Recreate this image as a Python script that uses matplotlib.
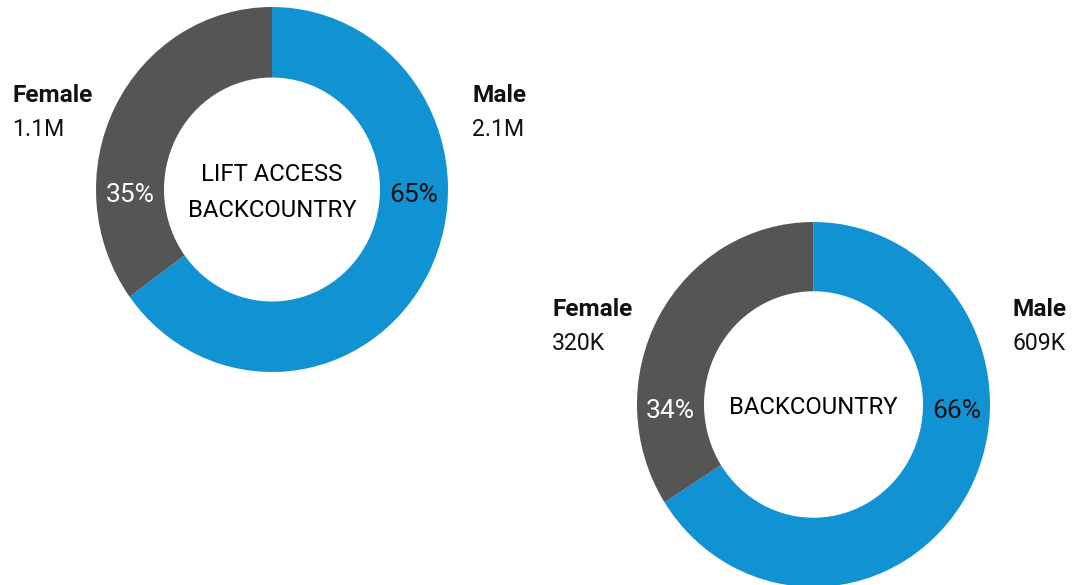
import matplotlib.pyplot as plt

plt.rcParams['font.family'] = ['Roboto', 'DejaVu Sans']

# shares per sex, male first (drawn clockwise from 12 o'clock)
labels = ["Male", "Female"]
lift_share = [65, 35]
lift_counts = ["2.1M", "1.1M"]
bc_share = [66, 34]
bc_counts = ["609K", "320K"]

BLUE = "#1193d3"
GREY = "#555555"
W, H = 1077, 585

fig = plt.figure(figsize=(W / 100, H / 100), dpi=100)

# overlay axes in pixel units (y measured from the top) for all the text
txt = fig.add_axes([0, 0, 1, 1], zorder=5)
txt.set_xlim(0, W)
txt.set_ylim(H, 0)
txt.axis('off')
txt.patch.set_alpha(0)


def donut(cx, cy, rx, ry, inner, shares, counts, title, female_x, male_x,
          label_y):
    # each ring gets its own axes so its size is set in pixels
    ax = fig.add_axes([(cx - rx) / W, (H - cy - ry) / H, 2 * rx / W, 2 * ry / H])
    ax.pie(shares, colors=[BLUE, GREY], startangle=90, counterclock=False,
           radius=1, wedgeprops=dict(width=1 - inner / rx, linewidth=0))
    ax.set_aspect('auto')
    ax.set_xlim(-1, 1)
    ax.set_ylim(-1, 1)
    ax.axis('off')

    mid = (rx + inner) / 2
    txt.text(cx + mid, cy + 6, f"{shares[0]}%", ha='center', va='center',
             fontsize=19, color="#111111")
    txt.text(cx - mid, cy + 6, f"{shares[1]}%", ha='center', va='center',
             fontsize=19, color="white")
    txt.text(cx, cy + 3, title, ha='center', va='center', fontsize=17.2,
             color="black", linespacing=1.68)
    for x, name, cnt in [(male_x, labels[0], counts[0]),
                         (female_x, labels[1], counts[1])]:
        txt.text(x, label_y, name, ha='left', va='center', fontsize=17.6,
                 fontweight='bold', color="#111111")
        txt.text(x, label_y + 33, cnt, ha='left', va='center', fontsize=16.6,
                 color="#111111")


donut(272, 189.5, 176, 182.5, 108, lift_share, lift_counts,
      "LIFT ACCESS\nBACKCOUNTRY", 12, 472, 96)
donut(813.5, 404.5, 176.5, 182.5, 109.5, bc_share, bc_counts, "BACKCOUNTRY",
      552, 1013, 310)

fig.savefig("out.png", dpi=100, facecolor="white")
